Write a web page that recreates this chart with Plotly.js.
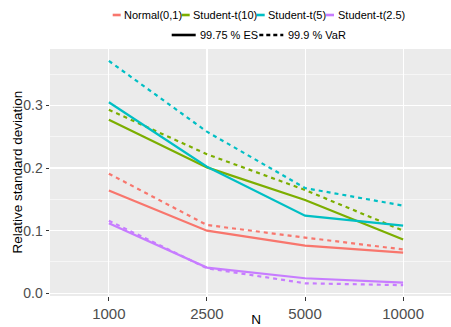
<!DOCTYPE html>
<html>
<head>
<meta charset="utf-8">
<script src="https://cdn.plot.ly/plotly-3.0.1.min.js"></script>
<style>
html,body{margin:0;padding:0;background:#fff;overflow:hidden;width:451px;height:327px;}
#chart{width:462px;height:327px;}
</style>
</head>
<body>
<div id="chart"></div>
<script>
// ---- data ----
const sampleSizes = ["1000", "2500", "5000", "10000"];
const distributions = ["Normal(0,1)", "Student-t(10)", "Student-t(5)", "Student-t(2.5)"];
const measures = ["99.75 % ES", "99.9 % VaR"];
const yTickVals = [0, 0.1, 0.2, 0.3];
const yTickText = ["0.0", "0.1", "0.2", "0.3"];

const esNormal   = [0.164, 0.100, 0.076, 0.065];
const esT10      = [0.277, 0.201, 0.149, 0.086];
const esT5       = [0.305, 0.202, 0.124, 0.108];
const esT25      = [0.112, 0.041, 0.024, 0.017];

const varNormal  = [0.191, 0.109, 0.089, 0.070];
const varT10     = [0.293, 0.222, 0.165, 0.100];
const varT5      = [0.371, 0.258, 0.168, 0.140];
const varT25     = [0.116, 0.040, 0.016, 0.013];

const colors = ["#F8766D", "#7CAE00", "#00BFC4", "#C77CFF"];

const esSeries  = [esNormal, esT10, esT5, esT25];
const varSeries = [varNormal, varT10, varT5, varT25];

const traces = [];
distributions.forEach((d, i) => {
  traces.push({
    x: sampleSizes, y: esSeries[i], type: "scatter", mode: "lines",
    name: d + " " + measures[0], showlegend: false,
    line: {color: colors[i], width: 2.2}
  });
  traces.push({
    x: sampleSizes, y: varSeries[i], type: "scatter", mode: "lines",
    name: d + " " + measures[1], showlegend: false,
    line: {color: colors[i], width: 2.2, dash: "4px,4px"}
  });
});

// ---- layout ----
const W = 462, H = 327;
const M = {l: 50, r: 0, t: 49, b: 31};
const pw = W - M.l - M.r, ph = H - M.t - M.b;
const px = x => (x - M.l) / pw;
const py = y => (H - M.b - y) / ph;
const FONT = "Liberation Sans, Arial, sans-serif";

const shapes = [];
const annotations = [];

// legend row 1 (colours)
const row1Y = 15;
const keyX = [112.7, 181.7, 256.7, 326.0];
distributions.forEach((d, i) => {
  shapes.push({type: "line", xref: "paper", yref: "paper",
    x0: px(keyX[i]), x1: px(keyX[i] + 8), y0: py(row1Y), y1: py(row1Y),
    line: {color: colors[i], width: 2.6}});
  annotations.push({xref: "paper", yref: "paper", x: px(keyX[i] + 9.5), y: py(row1Y),
    xanchor: "left", yanchor: "middle", showarrow: false, text: d,
    font: {family: FONT, size: 11, color: "#000"}});
});
// legend row 2 (line types)
const row2Y = 35;
const key2X = [171.7, 259.3];
const key2Dash = ["solid", "4px,3px"];
measures.forEach((m, i) => {
  shapes.push({type: "line", xref: "paper", yref: "paper",
    x0: px(key2X[i]), x1: px(key2X[i] + 24), y0: py(row2Y), y1: py(row2Y),
    line: {color: "#000", width: 2.6, dash: key2Dash[i]}});
  annotations.push({xref: "paper", yref: "paper", x: px(key2X[i] + 26.5), y: py(row2Y),
    xanchor: "left", yanchor: "middle", showarrow: false, text: m,
    font: {family: FONT, size: 11, color: "#000"}});
});
// y axis title
annotations.push({xref: "paper", yref: "paper", x: px(17), y: 0.5,
  xanchor: "center", yanchor: "middle", textangle: -90, showarrow: false,
  text: "Relative standard deviation", font: {family: FONT, size: 13.5, color: "#000"}});

const layout = {
  width: W, height: H,
  margin: M,
  paper_bgcolor: "#ffffff",
  plot_bgcolor: "#EBEBEB",
  showlegend: false,
  font: {family: FONT, color: "#4D4D4D"},
  xaxis: {
    type: "category",
    categoryorder: "array", categoryarray: sampleSizes,
    range: [-0.6, 3.6],
    showgrid: true, gridcolor: "#ffffff", gridwidth: 1.1,
    zeroline: false, showline: false,
    ticks: "outside", ticklen: 3.5, tickcolor: "#333333", tickwidth: 1,
    tickfont: {size: 15, color: "#4D4D4D"},
    title: {text: "N", font: {size: 13.5, color: "#000"}, standoff: 3}
  },
  yaxis: {
    range: [-0.0043, 0.390],
    tickvals: yTickVals,
    ticktext: yTickText,
    showgrid: true, gridcolor: "#ffffff", gridwidth: 1.1,
    minor: {tickvals: [0.05, 0.15, 0.25, 0.35], showgrid: true, gridcolor: "#ffffff", gridwidth: 0.55, ticks: ""},
    zeroline: false, showline: false,
    ticks: "outside", ticklen: 3.5, tickcolor: "#333333", tickwidth: 1,
    tickfont: {size: 14, color: "#4D4D4D"}
  },
  shapes: shapes,
  annotations: annotations
};

Plotly.newPlot("chart", traces, layout, {displayModeBar: false, staticPlot: true});
</script>
</body>
</html>
